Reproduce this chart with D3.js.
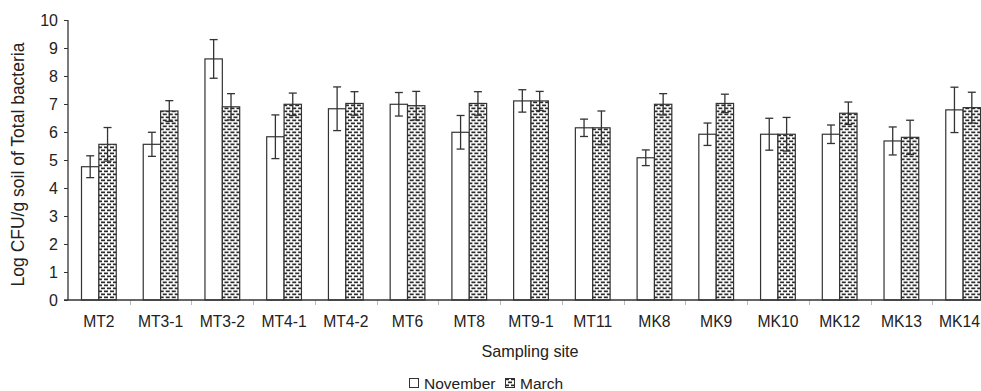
<!DOCTYPE html>
<html>
<head>
<meta charset="utf-8">
<script src="https://cdn.jsdelivr.net/npm/d3@7"></script>
<style>
  body { margin: 0; background: #fff; }
  text { font-family: "Liberation Sans", Arial, sans-serif; fill: #222; }
</style>
</head>
<body>
<div id="chart"></div>
<script>
var sites = ["MT2", "MT3-1", "MT3-2", "MT4-1", "MT4-2", "MT6", "MT8", "MT9-1", "MT11", "MK8", "MK9", "MK10", "MK12", "MK13", "MK14"];
var november    = [4.76, 5.56, 8.61, 5.83, 6.83, 6.99, 5.99, 7.11, 6.15, 5.08, 5.92, 5.92, 5.92, 5.68, 6.79];
var novemberErr = [0.39, 0.43, 0.69, 0.78, 0.78, 0.42, 0.60, 0.40, 0.31, 0.28, 0.40, 0.57, 0.33, 0.50, 0.81];
var march       = [5.56, 6.75, 6.90, 6.99, 7.02, 6.94, 7.02, 7.11, 6.15, 6.99, 7.02, 5.92, 6.67, 5.81, 6.87];
var marchErr    = [0.60, 0.37, 0.47, 0.40, 0.42, 0.51, 0.42, 0.34, 0.60, 0.38, 0.33, 0.60, 0.40, 0.61, 0.55];
var yTicks = [0, 1, 2, 3, 4, 5, 6, 7, 8, 9, 10];
var seriesNames = ["November", "March"];

var margin = {top: 20, right: -13, bottom: 91, left: 68},
    W = 981, H = 391,
    width = W - margin.left - margin.right,
    height = H - margin.top - margin.bottom;

var svg = d3.select("#chart").append("svg")
    .attr("width", W)
    .attr("height", H);

// dotted fill for the March bars
var pat = svg.append("defs").append("pattern")
    .attr("id", "dots")
    .attr("patternUnits", "userSpaceOnUse")
    .attr("width", 6)
    .attr("height", 6);
pat.append("rect").attr("width", 6).attr("height", 6).attr("fill", "#fff");
[[0, 0.5], [3, 3.5], [-3, 3.5]].forEach(function(p) {
  pat.append("rect").attr("x", p[0]).attr("y", p[1]).attr("width", 4).attr("height", 1.7).attr("fill", "#2a2a2a");
});

var g = svg.append("g")
    .attr("transform", "translate(" + margin.left + "," + margin.top + ")");

var x0 = d3.scaleBand().domain(sites).range([0, width]).paddingInner(0).paddingOuter(0),
    x1 = d3.scaleBand().domain(seriesNames).range([13.5, x0.bandwidth() - 13.5]),
    y = d3.scaleLinear().domain([0, 10]).range([height, 0]);

var rows = sites.map(function(s, i) {
  return {site: s, vals: [
    {name: "November", v: november[i], e: novemberErr[i]},
    {name: "March", v: march[i], e: marchErr[i]}
  ]};
});

// category separators under the x axis
g.append("g").selectAll("line")
  .data(sites.slice(1))
  .enter().append("line")
    .attr("x1", function(d) { return Math.round(x0(d)) + 0.5; })
    .attr("x2", function(d) { return Math.round(x0(d)) + 0.5; })
    .attr("y1", height)
    .attr("y2", height + 5)
    .attr("stroke", "#bbb");

var grp = g.selectAll(".site")
  .data(rows)
  .enter().append("g")
    .attr("class", "site")
    .attr("transform", function(d) { return "translate(" + x0(d.site) + ",0)"; });

grp.selectAll("rect")
  .data(function(d) { return d.vals; })
  .enter().append("rect")
    .attr("x", function(d) { return x1(d.name); })
    .attr("y", function(d) { return y(d.v); })
    .attr("width", x1.bandwidth())
    .attr("height", function(d) { return height - y(d.v); })
    .attr("fill", function(d) { return d.name === "March" ? "url(#dots)" : "#fff"; })
    .attr("stroke", "#333")
    .attr("stroke-width", 1.2);

var err = grp.selectAll(".err")
  .data(function(d) { return d.vals; })
  .enter().append("g")
    .attr("class", "err")
    .attr("stroke", "#333")
    .attr("stroke-width", 1.3);

err.append("line")
    .attr("x1", function(d) { return x1(d.name) + x1.bandwidth() / 2; })
    .attr("x2", function(d) { return x1(d.name) + x1.bandwidth() / 2; })
    .attr("y1", function(d) { return y(d.v + d.e); })
    .attr("y2", function(d) { return y(d.v - d.e); });
[1, -1].forEach(function(sgn) {
  err.append("line")
      .attr("x1", function(d) { return x1(d.name) + x1.bandwidth() / 2 - 4; })
      .attr("x2", function(d) { return x1(d.name) + x1.bandwidth() / 2 + 4; })
      .attr("y1", function(d) { return y(d.v + sgn * d.e); })
      .attr("y2", function(d) { return y(d.v + sgn * d.e); });
});

// axes
var yAxis = d3.axisLeft(y).tickValues(yTicks).tickSize(4).tickPadding(6);
var ya = g.append("g").call(yAxis);
ya.select(".domain").attr("stroke", "#333").attr("stroke-width", 1.3).attr("d", "M0," + height + "V0");
ya.selectAll(".tick line").attr("stroke", "#333");
ya.selectAll("text").style("font-size", "16px").attr("fill", "#222");

g.append("line")
    .attr("x1", -4).attr("x2", width)
    .attr("y1", height).attr("y2", height)
    .attr("stroke", "#333").attr("stroke-width", 1.3);

g.append("g").selectAll("text")
  .data(sites)
  .enter().append("text")
    .attr("x", function(d) { return x0(d) + x0.bandwidth() / 2; })
    .attr("y", height + 27)
    .attr("text-anchor", "middle")
    .style("font-size", "15.7px")
    .text(function(d) { return d; })
    .each(function() { // keep the last label inside the cropped picture
      var w = this.getComputedTextLength(),
          cx = +d3.select(this).attr("x"),
          maxX = W - margin.left - 1 - w / 2;
      if (cx > maxX) d3.select(this).attr("x", maxX);
    });

g.append("text")
    .attr("x", 530 - margin.left)
    .attr("y", height + 57)
    .attr("text-anchor", "middle")
    .style("font-size", "16.2px")
    .text("Sampling site");

svg.append("text")
    .attr("transform", "translate(24,164.5) rotate(-90)")
    .attr("text-anchor", "middle")
    .style("font-size", "17.5px")
    .text("Log CFU/g soil of Total bacteria");

// legend
var leg = svg.append("g").attr("transform", "translate(409,378)");
leg.append("rect").attr("x", 0.5).attr("y", 0.5).attr("width", 9).attr("height", 9)
    .attr("fill", "#fff").attr("stroke", "#333");
leg.append("text").attr("x", 15).attr("y", 10.5).style("font-size", "15.5px").text("November");
leg.append("rect").attr("x", 96.5).attr("y", 0.5).attr("width", 9).attr("height", 9)
    .attr("fill", "url(#dots)").attr("stroke", "#333");
leg.append("text").attr("x", 111).attr("y", 10.5).style("font-size", "15.5px").text("March");
</script>
</body>
</html>
